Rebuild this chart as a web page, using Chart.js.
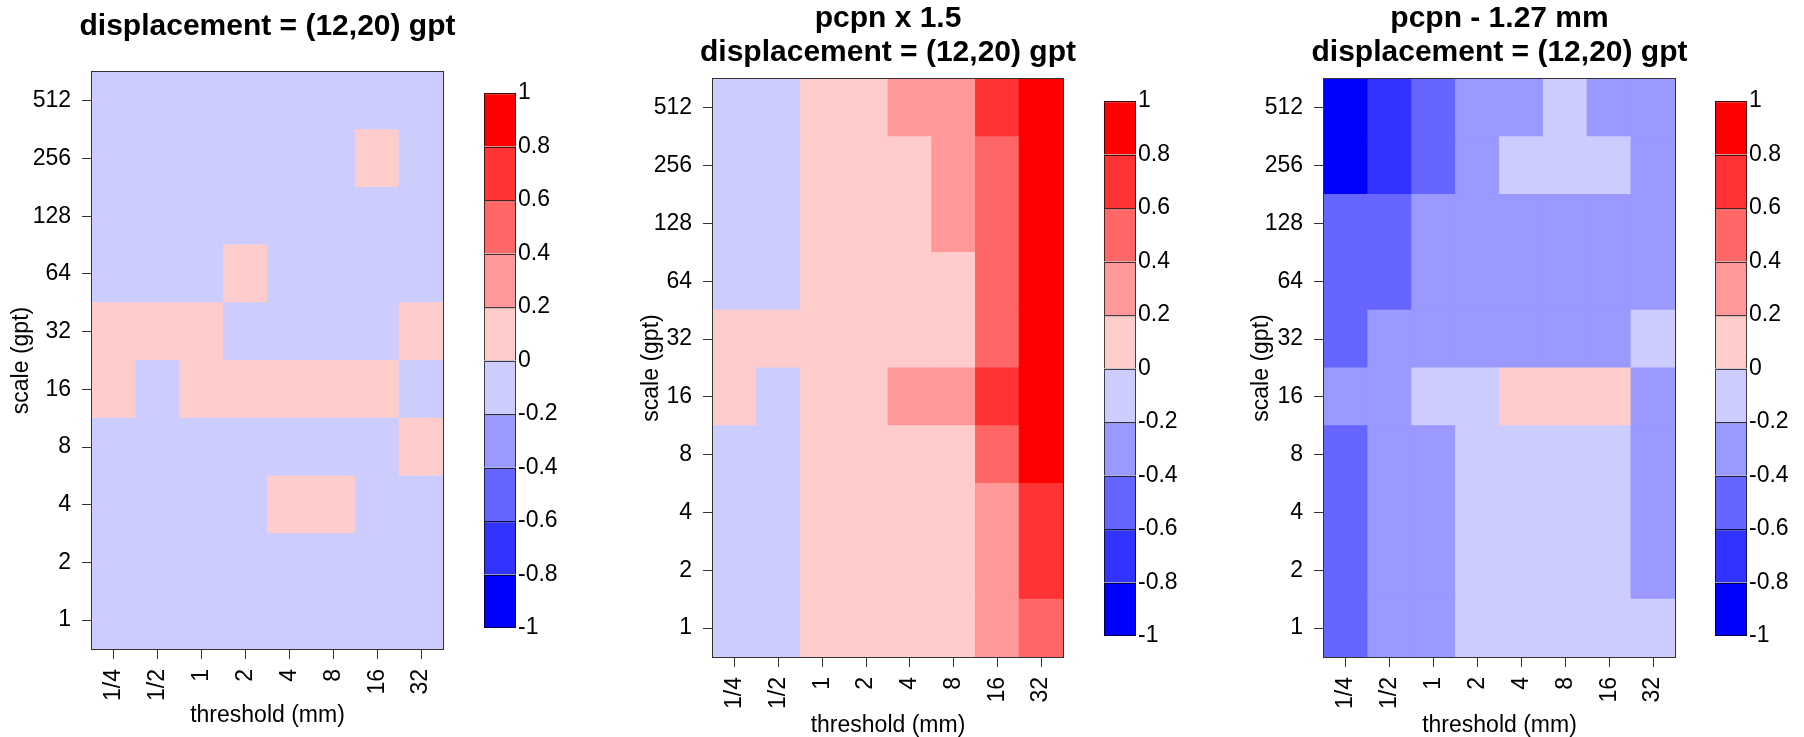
<!DOCTYPE html>
<html>
<head>
<meta charset="utf-8">
<script src="https://cdn.jsdelivr.net/npm/chart.js@4.4.1/dist/chart.umd.min.js"></script>
<style>
  html, body { margin: 0; padding: 0; background: #fff; }
  body { width: 1804px; height: 737px; position: relative; overflow: hidden; }
  canvas { position: absolute; }
</style>
</head>
<body>
<canvas id="heat1" width="535" height="737" style="left:0px;top:0px"></canvas>
<canvas id="heat2" width="516" height="737" style="left:630px;top:0px"></canvas>
<canvas id="heat3" width="519" height="737" style="left:1240px;top:0px"></canvas>
<canvas id="key1" width="100" height="600" style="left:484px;top:63px"></canvas>
<canvas id="key2" width="100" height="600" style="left:1104px;top:71px"></canvas>
<canvas id="key3" width="100" height="600" style="left:1715px;top:71px"></canvas>
<script>
// axis categories
const thresholdLabels = ['1/4', '1/2', '1', '2', '4', '8', '16', '32'];
const scaleLabels = ['1', '2', '4', '8', '16', '32', '64', '128', '256', '512'];

// colour key: 10 levels from -1 to 1
const levelBreaks = [-1, -0.8, -0.6, -0.4, -0.2, 0, 0.2, 0.4, 0.6, 0.8, 1];
const levelColours = ['#0000FF', '#3333FF', '#6666FF', '#9999FF', '#CCCCFF',
                      '#FFCCCC', '#FF9999', '#FF6666', '#FF3333', '#FF0000'];

// cell values, rows from scale 512 (top) down to 1, columns 1/4 .. 32 mm
const shiftOnly = [
  [-0.1, -0.1, -0.1, -0.1, -0.1, -0.1, -0.1, -0.1], // 512
  [-0.1, -0.1, -0.1, -0.1, -0.1, -0.1,  0.1, -0.1], // 256
  [-0.1, -0.1, -0.1, -0.1, -0.1, -0.1, -0.1, -0.1], // 128
  [-0.1, -0.1, -0.1,  0.1, -0.1, -0.1, -0.1, -0.1], // 64
  [ 0.1,  0.1,  0.1, -0.1, -0.1, -0.1, -0.1,  0.1], // 32
  [ 0.1, -0.1,  0.1,  0.1,  0.1,  0.1,  0.1, -0.1], // 16
  [-0.1, -0.1, -0.1, -0.1, -0.1, -0.1, -0.1,  0.1], // 8
  [-0.1, -0.1, -0.1, -0.1,  0.1,  0.1, -0.1, -0.1], // 4
  [-0.1, -0.1, -0.1, -0.1, -0.1, -0.1, -0.1, -0.1], // 2
  [-0.1, -0.1, -0.1, -0.1, -0.1, -0.1, -0.1, -0.1]  // 1
];
const pcpnTimes15 = [
  [-0.1, -0.1,  0.1,  0.1,  0.3,  0.3,  0.7,  0.9], // 512
  [-0.1, -0.1,  0.1,  0.1,  0.1,  0.3,  0.5,  0.9], // 256
  [-0.1, -0.1,  0.1,  0.1,  0.1,  0.3,  0.5,  0.9], // 128
  [-0.1, -0.1,  0.1,  0.1,  0.1,  0.1,  0.5,  0.9], // 64
  [ 0.1,  0.1,  0.1,  0.1,  0.1,  0.1,  0.5,  0.9], // 32
  [ 0.1, -0.1,  0.1,  0.1,  0.3,  0.3,  0.7,  0.9], // 16
  [-0.1, -0.1,  0.1,  0.1,  0.1,  0.1,  0.5,  0.9], // 8
  [-0.1, -0.1,  0.1,  0.1,  0.1,  0.1,  0.3,  0.7], // 4
  [-0.1, -0.1,  0.1,  0.1,  0.1,  0.1,  0.3,  0.7], // 2
  [-0.1, -0.1,  0.1,  0.1,  0.1,  0.1,  0.3,  0.5]  // 1
];
const pcpnMinus127 = [
  [-0.9, -0.7, -0.5, -0.3, -0.3, -0.1, -0.3, -0.3], // 512
  [-0.9, -0.7, -0.5, -0.3, -0.1, -0.1, -0.1, -0.3], // 256
  [-0.5, -0.5, -0.3, -0.3, -0.3, -0.3, -0.3, -0.3], // 128
  [-0.5, -0.5, -0.3, -0.3, -0.3, -0.3, -0.3, -0.3], // 64
  [-0.5, -0.3, -0.3, -0.3, -0.3, -0.3, -0.3, -0.1], // 32
  [-0.3, -0.3, -0.1, -0.1,  0.1,  0.1,  0.1, -0.3], // 16
  [-0.5, -0.3, -0.3, -0.1, -0.1, -0.1, -0.1, -0.3], // 8
  [-0.5, -0.3, -0.3, -0.1, -0.1, -0.1, -0.1, -0.3], // 4
  [-0.5, -0.3, -0.3, -0.1, -0.1, -0.1, -0.1, -0.3], // 2
  [-0.5, -0.3, -0.3, -0.1, -0.1, -0.1, -0.1, -0.1]  // 1
];

const titleLine = 'displacement = (12,20) gpt';

Chart.defaults.font.family = "'Liberation Sans', Arial, Helvetica, sans-serif";
Chart.defaults.font.size = 23;
Chart.defaults.color = '#000';
Chart.defaults.animation = false;
Chart.defaults.events = [];
Chart.defaults.plugins.legend.display = false;
Chart.defaults.plugins.tooltip.enabled = false;

function colourOf(v) {
  const i = Math.floor((v - levelBreaks[0]) / (levelBreaks[1] - levelBreaks[0]));
  return levelColours[Math.max(0, Math.min(levelColours.length - 1, i))];
}

function darker(hex) {
  const n = parseInt(hex.slice(1), 16);
  const r = Math.round(((n >> 16) & 255) * 0.3);
  const g = Math.round(((n >> 8) & 255) * 0.3);
  const b = Math.round((n & 255) * 0.3);
  return `rgb(${r},${g},${b})`;
}

// box round the plot region
const frame = {
  id: 'frame',
  afterDatasetsDraw(chart) {
    const { ctx, chartArea: a } = chart;
    ctx.save();
    ctx.strokeStyle = '#333';
    ctx.lineWidth = 1;
    ctx.strokeRect(a.left - 0.5, a.top - 0.5, a.width + 1, a.height + 1);
    ctx.restore();
  }
};

function createHeatmap(id, matrix, title, opt) {
  const rows = matrix.slice().reverse(); // bottom row first
  const datasets = rows.map((row, r) => ({
    data: row.map(() => [r, r + 1]),
    backgroundColor: row.map(colourOf),
    borderWidth: 0,
    inflateAmount: 0.5,
    grouped: false,
    barPercentage: 1,
    categoryPercentage: 1
  }));
  return new Chart(document.getElementById(id), {
    type: 'bar',
    data: { labels: thresholdLabels, datasets: datasets },
    options: {
      responsive: false,
      layout: { padding: 0 },
      plugins: {
        title: {
          display: true,
          text: title,
          color: '#000',
          font: { size: 30, weight: 'bold', lineHeight: '34px' },
          padding: { top: opt.titleTop, bottom: opt.titleBottom }
        }
      },
      scales: {
        x: {
          type: 'category',
          offset: true,
          grid: { offset: false, drawOnChartArea: false, tickLength: 10, color: '#333' },
          border: { display: false },
          ticks: { minRotation: 90, maxRotation: 90, autoSkip: false, padding: 10 },
          title: {
            display: true,
            text: 'threshold (mm)',
            font: { size: 23, lineHeight: 1 },
            padding: { top: 0, bottom: opt.xTitleBottom }
          },
          afterFit: (s) => { s.height = opt.xHeight; }
        },
        y: {
          type: 'linear',
          position: 'left',
          min: 0,
          max: scaleLabels.length,
          grid: { drawOnChartArea: false, tickLength: 10, color: '#333' },
          border: { display: false },
          ticks: { padding: 11, callback: (v) => scaleLabels[Math.floor(v)] },
          afterBuildTicks: (axis) => {
            axis.ticks = scaleLabels.map((_, i) => ({ value: i + 0.5 }));
          },
          title: {
            display: true,
            text: 'scale (gpt)',
            font: { size: 23, lineHeight: 1 },
            padding: { top: 10, bottom: 0 }
          },
          afterFit: (s) => { s.width = opt.yWidth; }
        },
        // empty balancing axis so the title centres over the plot
        yBalance: {
          type: 'linear',
          position: 'right',
          display: true,
          grid: { display: false },
          border: { display: false },
          ticks: { display: false },
          afterFit: (s) => { s.width = opt.yWidth; }
        }
      }
    },
    plugins: [frame]
  });
}

function createKey(id) {
  const datasets = levelColours.map((c, i) => ({
    data: [[levelBreaks[i], levelBreaks[i + 1]]],
    backgroundColor: c,
    borderColor: darker(c),
    borderWidth: { top: 1.5, left: 1, right: 1, bottom: i === 0 ? 1 : 0 },
    borderSkipped: false,
    inflateAmount: 0,
    grouped: false,
    barPercentage: 1,
    categoryPercentage: 1
  }));
  return new Chart(document.getElementById(id), {
    type: 'bar',
    data: { labels: ['key'], datasets: datasets },
    options: {
      responsive: false,
      layout: { padding: { top: 30, bottom: 35, left: 0, right: 0 } },
      scales: {
        x: { display: false },
        y: {
          position: 'right',
          min: -1,
          max: 1,
          grid: { display: false, drawTicks: false },
          border: { display: false },
          ticks: {
            padding: 2,
            callback: (v) => String(parseFloat(v.toFixed(1)) || 0)
          },
          afterBuildTicks: (axis) => {
            axis.ticks = levelBreaks.map((b) => ({ value: b }));
          },
          afterFit: (s) => { s.width = 68; }
        }
      }
    }
  });
}

createHeatmap('heat1', shiftOnly, titleLine,
  { titleTop: 10, titleBottom: 28, xHeight: 88, xTitleBottom: 9.5, yWidth: 92 });
createHeatmap('heat2', pcpnTimes15, ['pcpn x 1.5', titleLine],
  { titleTop: 2, titleBottom: 9, xHeight: 80, xTitleBottom: 0, yWidth: 83 });
createHeatmap('heat3', pcpnMinus127, ['pcpn - 1.27 mm', titleLine],
  { titleTop: 2, titleBottom: 9, xHeight: 80, xTitleBottom: 0, yWidth: 84 });
createKey('key1');
createKey('key2');
createKey('key3');
</script>
</body>
</html>
